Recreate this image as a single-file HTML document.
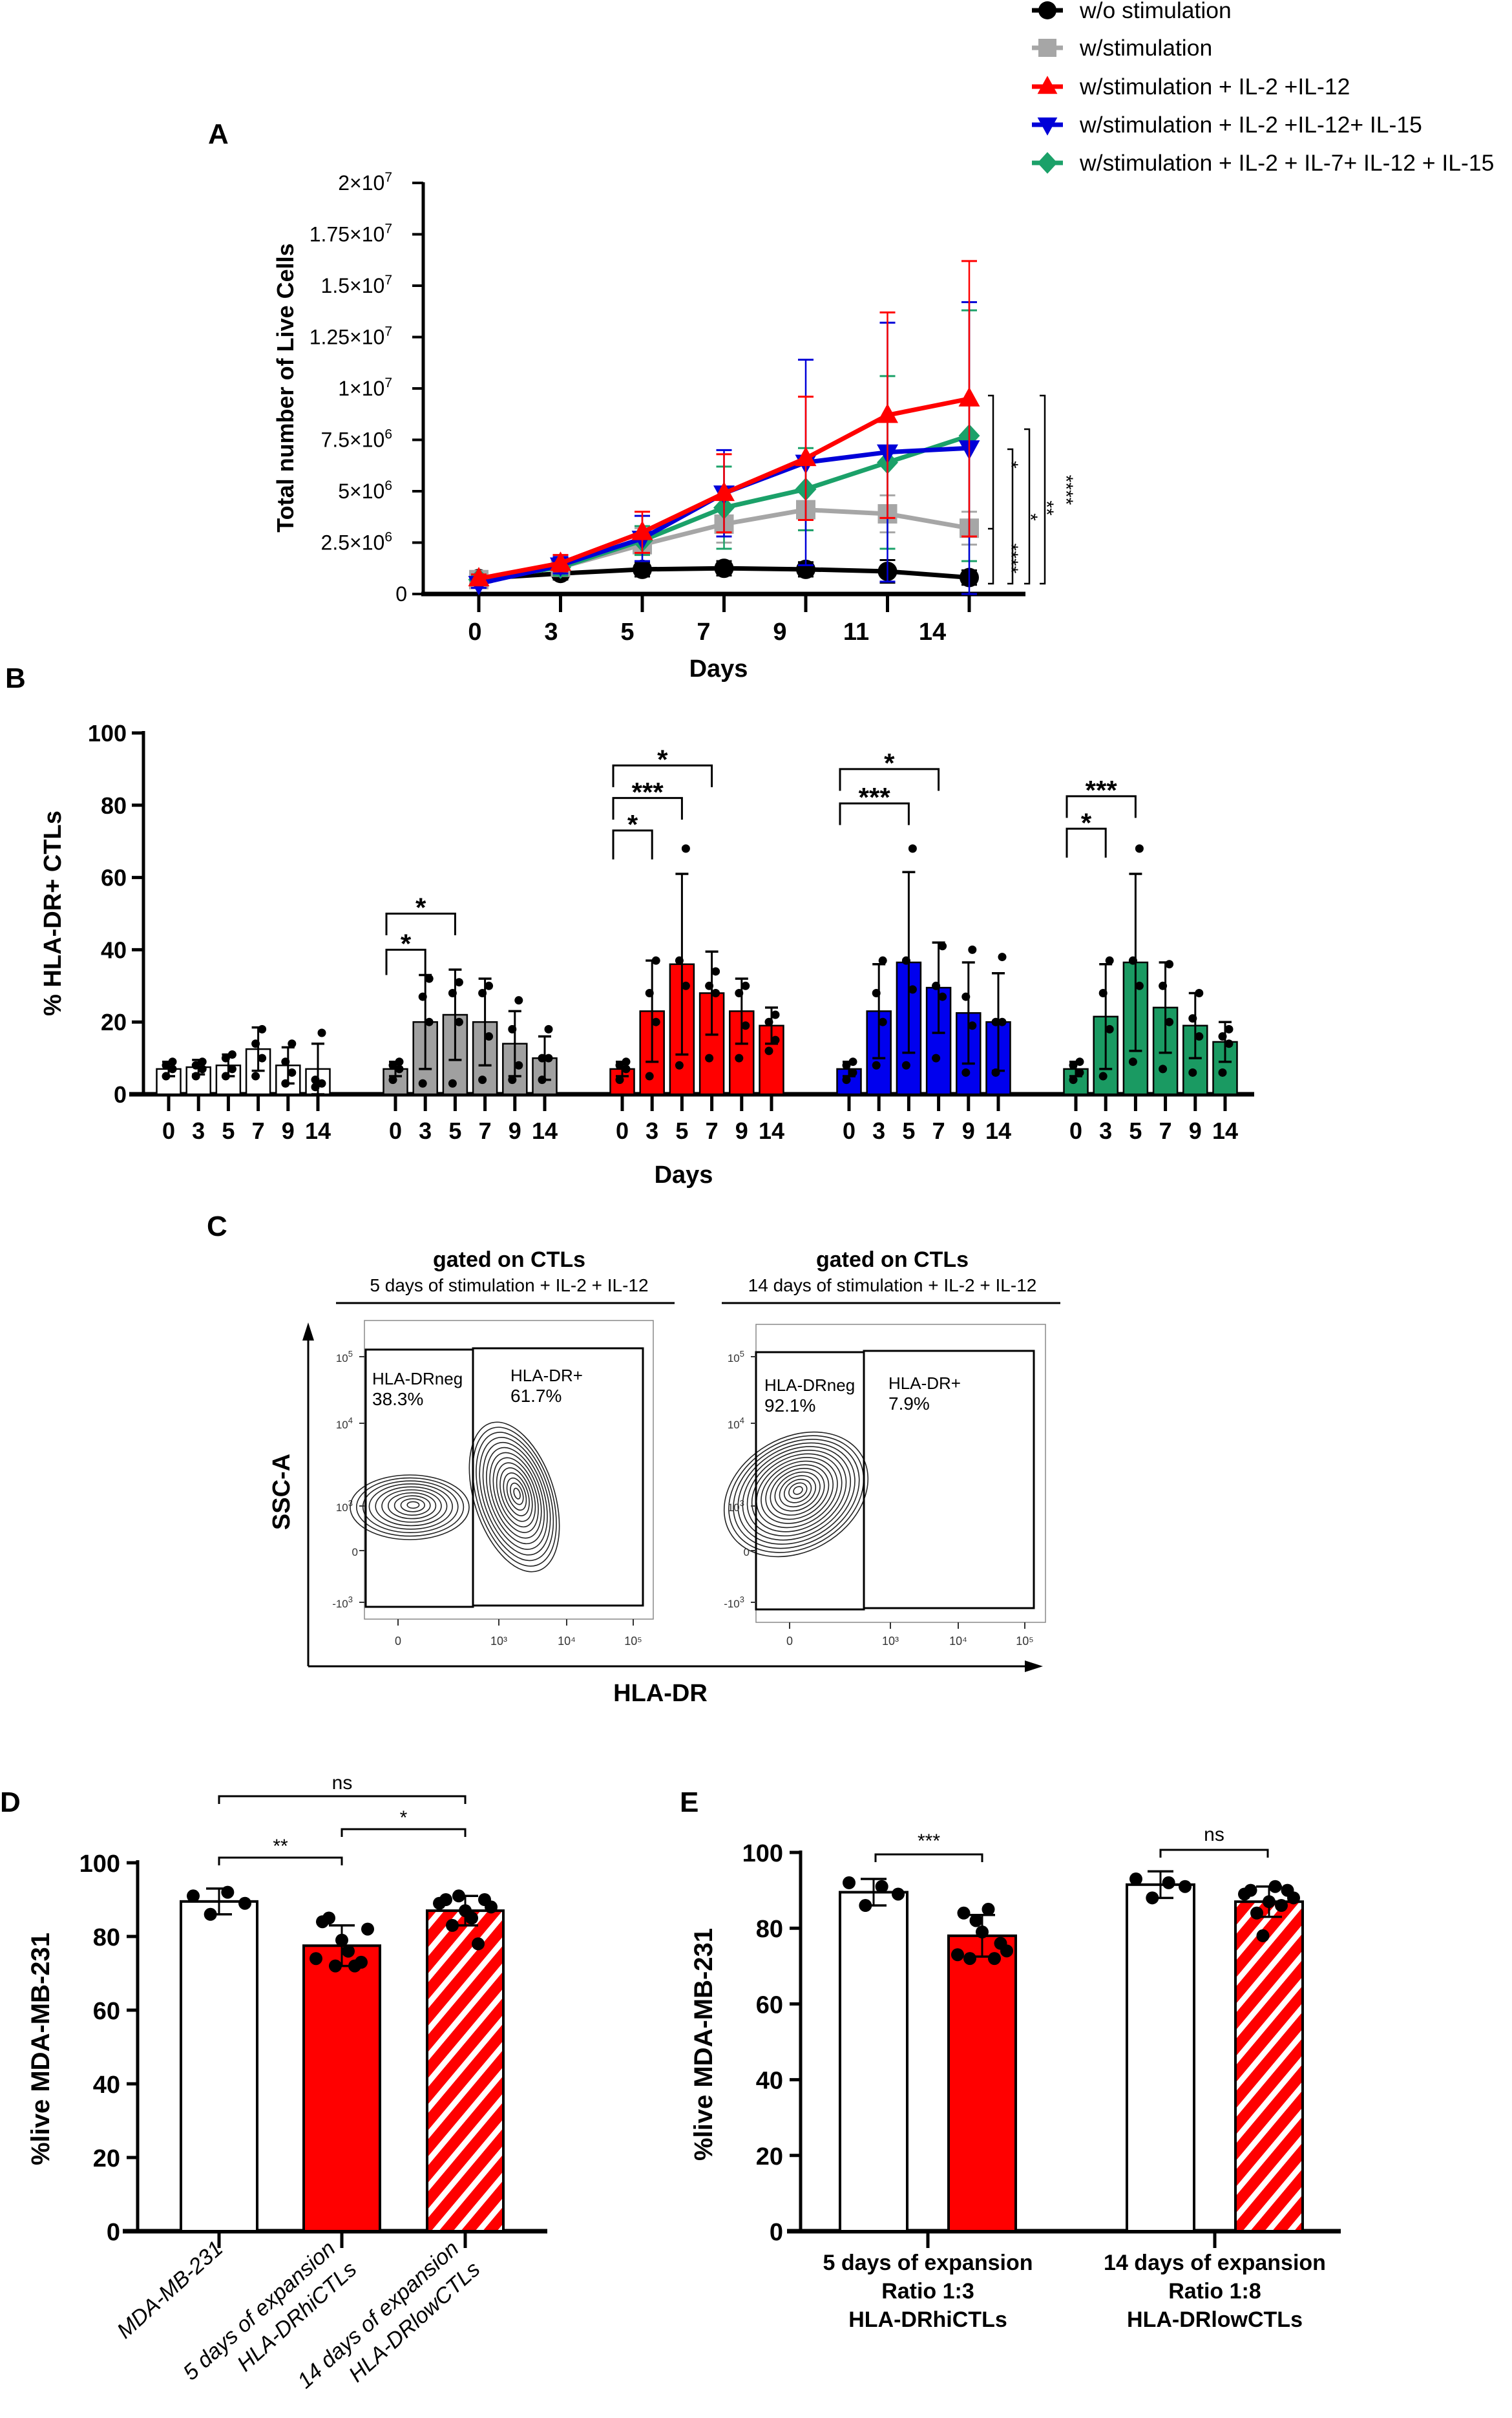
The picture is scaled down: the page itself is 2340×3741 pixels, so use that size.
<!DOCTYPE html>
<html><head><meta charset="utf-8"><style>
html,body{margin:0;padding:0;background:#fff;}
svg{display:block;font-family:"Liberation Sans",Arial,sans-serif;}
</style></head>
<body>
<svg id="fig" xmlns="http://www.w3.org/2000/svg" width="2340" height="3741" viewBox="0 0 2340 3741">
<defs>
<pattern id="hatch" patternUnits="userSpaceOnUse" width="26" height="26" patternTransform="rotate(40)">
<rect width="26" height="26" fill="#ff0000"/><rect width="9" height="26" fill="#fff"/>
</pattern>
</defs>
</svg>
<script>
// ---------- Panel A data ----------
const daysA = ["0","3","5","7","9","11","14"];
const seriesNames = ["w/o stimulation","w/stimulation","w/stimulation + IL-2 +IL-12","w/stimulation + IL-2 +IL-12+ IL-15","w/stimulation + IL-2 + IL-7+ IL-12 + IL-15"];
const blackVals = [0.75,1.0,1.2,1.25,1.2,1.1,0.8];
const grayVals  = [0.7,1.3,2.4,3.4,4.1,3.9,3.2];
const redVals   = [0.75,1.5,3.0,4.9,6.6,8.7,9.5];
const blueVals  = [0.5,1.4,2.7,4.9,6.4,6.9,7.1];
const greenVals = [0.7,1.3,2.6,4.2,5.1,6.4,7.7];
const blackErr = [0.3,0.3,0.35,0.35,0.35,0.55,0.35];
const grayErr  = [0.3,0.4,0.8,0.9,1.0,0.9,0.8];
const redErr   = [0.2,0.4,1.0,1.9,3.0,5.0,6.7];
const blueErr  = [0.2,0.4,1.1,2.1,5.0,6.3,7.1];
const greenErr = [0.2,0.4,0.7,2.0,2.0,4.2,6.1];
const yTicksA = [0,2.5,5,7.5,10,12.5,15,17.5,20];
const yTickLabA = [["0",""],["2.5×10","6"],["5×10","6"],["7.5×10","6"],["1×10","7"],["1.25×10","7"],["1.5×10","7"],["1.75×10","7"],["2×10","7"]];
// ---------- Panel B data ----------
const daysB = ["0","3","5","7","9","14"];
const whiteB = [7,7.5,8,12.5,8,7];
const grayB  = [7,20,22,20,14,10];
const redB   = [7,23,36,28,23,19];
const blueB  = [7,23,36.5,29.5,22.5,20];
const greenB = [7,21.5,36.5,24,19,14.5];
const whiteBsd = [2,2,3,6,5,7];
const grayBsd  = [2,13,12.5,12,9,6];
const redBsd   = [2,14,25,11.5,9,5];
const blueBsd  = [2,13,25,12.5,14,13.5];
const greenBsd = [2,14.5,24.5,12.5,9,5.5];
const whitePts = [[5,7,8,9],[5,7,8,9],[5,7,10,11],[5,10,14,18],[3,6,9,14],[2,3,4,17]];
const grayPts  = [[4,7,8,9],[3,20,27,32],[3,20,28,31],[4,16,28,30],[4,8,18,26],[4,10,10,18]];
const redPts   = [[4,7,8,9],[5,20,28,37],[8,30,37,68],[10,28,30,34],[10,19,28,30],[12,15,20,22]];
const bluePts  = [[4,6,8,9],[8,20,28,37],[8,29,37,68],[10,27,30,41],[6,19,27,40],[6,20,20,38]];
const greenPts = [[4,6,8,9],[5,18,28,37],[9,30,37,68],[7,20,30,36],[6,16,21,28],[6,14,16,18]];
const yTicksB = [0,20,40,60,80,100];
// ---------- Panel D/E data ----------
const catsD = ["MDA-MB-231","5 days of expansion|HLA-DRhiCTLs","14 days of expansion|HLA-DRlowCTLs"];
const meansD = [89.5,77.5,87];
const sdD = [3.5,5.5,4];
const ptsD = [[91,86,92,89],[74,84,85,72,79,76,72,73,82],[89,90,83,91,87,85,78,90,88]];
const meansE = [89.5,78,91.5,87];
const sdE = [3.5,5.5,3.5,4];
const ptsE = [[92,86,91,89],[73,84,72,82,79,85,72,76,74],[93,88,92,91],[89,90,84,78,87,91,86,90,88]];
const catsE = ["5 days of expansion|Ratio 1:3|HLA-DRhiCTLs","14 days of expansion|Ratio 1:8|HLA-DRlowCTLs"];
const yTicksDE = [0,20,40,60,80,100];

const NS="http://www.w3.org/2000/svg";
const svg=document.getElementById('fig');
function mk(tag,attrs,name,parent){
  const el=document.createElementNS(NS,tag);
  for(const k in attrs) el.setAttribute(k,attrs[k]);
  
  
  (parent||svg).appendChild(el); return el;
}
function grp(name){return mk('g',{},name,svg);}
function line(x1,y1,x2,y2,w,c,name,p){return mk('line',{x1,y1,x2,y2,'stroke-width':w,stroke:c},name,p);}
function txt(x,y,s,size,name,p,extra){
  const a=Object.assign({x,y,'font-size':size,fill:'#000'},extra||{});
  const t=mk('text',a,name,p); t.textContent=s; return t;
}

const letters=[["A",322,222],["B",8,1064],["C",320,1912],["D",0,2803],["E",1052,2803]];
letters.forEach(l=>txt(l[1],l[2],l[0],44,'panel-label-'+l[0].toLowerCase(),svg,{'font-weight':'bold'}));

// ================= Panel A =================
const gA=grp('panel-a-line-chart');
const xA=i=>741+i*126.5;
const yA=m=>919-m*31.8;
line(655,282,655,922,5,'#000','y-axis',gA);
line(652,919,1587,919,7,'#000','x-axis',gA);
yTicksA.forEach((v,i)=>{
  line(638,yA(v),655,yA(v),4,'#000','y-tick',gA);
  const t=txt(630,yA(v)+11,yTickLabA[i][0],32,'y-tick-label',gA,{'text-anchor':'end'});
  if(yTickLabA[i][1]){const s=document.createElementNS(NS,'tspan');s.setAttribute('dy','-13');s.setAttribute('font-size','21');s.textContent=yTickLabA[i][1];
  
  
  t.appendChild(s);
  t.setAttribute('x',607);}
});
daysA.forEach((d,i)=>{
  line(xA(i),919,xA(i),947,5,'#000','x-tick',gA);
  txt(735+i*118,990,d,38,'x-tick-label',gA,{'text-anchor':'middle','font-weight':'bold'});
});
txt(1112,1047,"Days",38,'x-axis-title',gA,{'text-anchor':'middle','font-weight':'bold'});
txt(0,0,"Total number of Live Cells",36,'y-axis-title',gA,{'text-anchor':'middle','font-weight':'bold','transform':'translate(454,600) rotate(-90)'});

const sAll=[[blackVals,blackErr,'#000','circle'],[grayVals,grayErr,'#a6a6a6','square'],[greenVals,greenErr,'#1ba169','diamond'],[blueVals,blueErr,'#0000d8','down'],[redVals,redErr,'#ff0000','up']];
function marker(x,y,shape,c,name,p,s){
  s=s||15;
  if(shape==='circle') return mk('circle',{cx:x,cy:y,r:s,fill:c},name,p);
  if(shape==='square') return mk('rect',{x:x-s,y:y-s,width:2*s,height:2*s,fill:c},name,p);
  if(shape==='up') return mk('polygon',{points:`${x},${y-s*1.2} ${x+s*1.1},${y+s*0.8} ${x-s*1.1},${y+s*0.8}`,fill:c},name,p);
  if(shape==='down') return mk('polygon',{points:`${x},${y+s*1.2} ${x+s*1.1},${y-s*0.8} ${x-s*1.1},${y-s*0.8}`,fill:c},name,p);
  return mk('polygon',{points:`${x},${y-s*1.2} ${x+s*1.1},${y} ${x},${y+s*1.2} ${x-s*1.1},${y}`,fill:c},name,p);
}
sAll.forEach((s,si)=>{
  const g=mk('g',{},'series-'+s[3],gA);
  s[0].forEach((v,i)=>{
    const x=xA(i);
    line(x,yA(v-s[1][i]),x,yA(v+s[1][i]),2.5,s[2],'error-bar',g);
    line(x-12,yA(v+s[1][i]),x+12,yA(v+s[1][i]),3,s[2],'error-cap',g);
    line(x-12,yA(v-s[1][i]),x+12,yA(v-s[1][i]),3,s[2],'error-cap',g);
  });
  mk('polyline',{points:s[0].map((v,i)=>xA(i)+','+yA(v)).join(' '),fill:'none',stroke:s[2],'stroke-width':7},'series-line',g);
  s[0].forEach((v,i)=>marker(xA(i),yA(v),s[3],s[2],'data-point',g));
});
const sigA=[[1537,612,903,'*',1555,719],[1567,695,903,'*',1585,800],[1593,664,903,'**',1610,786],[1617,612,903,'****',1640,758]];
sigA.forEach(b=>{
  mk('polyline',{points:`${b[0]-8},${b[1]} ${b[0]},${b[1]} ${b[0]},${b[2]} ${b[0]-8},${b[2]}`,fill:'none',stroke:'#000','stroke-width':2.5},'significance-bracket',gA);
  txt(0,0,b[3],30,'significance-stars',gA,{'text-anchor':'middle','transform':`translate(${b[4]},${b[5]}) rotate(90)`});
});
mk('polyline',{points:`1529,818 1537,818`,fill:'none',stroke:'#000','stroke-width':2.5},'significance-bracket',gA);
txt(0,0,"****",30,'significance-stars',gA,{'text-anchor':'middle','transform':`translate(1555,864) rotate(90)`});
const legShapes=['circle','square','up','down','diamond'];
const legColors=['#000','#a6a6a6','#ff0000','#0000d8','#1ba169'];
const legY=[16,74,134,193,252];
seriesNames.forEach((n,i)=>{
  const g=mk('g',{},'legend-entry',svg);
  line(1597,legY[i],1645,legY[i],7,legColors[i],'legend-line',g);
  marker(1621,legY[i],legShapes[i],legColors[i],'legend-marker',g,14);
  txt(1671,legY[i]+12,n,35.5,'legend-label',g);
});

// ================= Panel B =================
const gB=grp('panel-b-bar-chart');
const xB=(g,i)=>261+g*351+i*46.2;
const yB=v=>1693-v*5.59;
line(222,1131,222,1696,5,'#000','y-axis',gB);
line(200,1693,1941,1693,7,'#000','x-axis',gB);
yTicksB.forEach(v=>{
  line(204,yB(v),222,yB(v),5,'#000','y-tick',gB);
  txt(196,yB(v)+13,String(v),36,'y-tick-label',gB,{'text-anchor':'end','font-weight':'bold'});
});
txt(0,0,"% HLA-DR+ CTLs",38,'y-axis-title',gB,{'text-anchor':'middle','font-weight':'bold','transform':'translate(94,1413) rotate(-90)'});
txt(1058,1830,"Days",38,'x-axis-title',gB,{'text-anchor':'middle','font-weight':'bold'});
const groupsB=[[whiteB,whiteBsd,whitePts,'#ffffff'],[grayB,grayBsd,grayPts,'#a0a0a0'],[redB,redBsd,redPts,'#ff0000'],[blueB,blueBsd,bluePts,'#0000ee'],[greenB,greenBsd,greenPts,'#1a9a62']];
groupsB.forEach((G,g)=>{
  const gg=mk('g',{},'bar-group-'+(g+1),gB);
  G[0].forEach((v,i)=>{
    const x=xB(g,i);
    mk('rect',{x:x-18.5,y:yB(v),width:37,height:yB(0)-yB(v),fill:G[3],stroke:'#000','stroke-width':2.5},'bar',gg);
    line(x,yB(Math.max(0,v-G[1][i])),x,yB(v+G[1][i]),3,'#000','error-bar',gg);
    line(x-10,yB(v+G[1][i]),x+10,yB(v+G[1][i]),3.5,'#000','error-cap',gg);
    line(x-10,yB(Math.max(0,v-G[1][i])),x+10,yB(Math.max(0,v-G[1][i])),3.5,'#000','error-cap',gg);
    G[2][i].forEach((p,k)=>mk('circle',{cx:x+(k%2?6:-4),cy:yB(p),r:6.5,fill:'#000'},'data-point',gg));
    line(x,1693,x,1719,5,'#000','x-tick',gg);
    txt(x,1762,daysB[i],36,'x-tick-label',gg,{'text-anchor':'middle','font-weight':'bold'});
  });
});
const sigB=[[1,1,40,7,'*',43],[1,2,50,6,'*',53],[2,1,73,8,'*',76],[2,2,82,6,'***',85],[2,3,91,6,'*',94],[3,2,80.5,6,'***',83.5],[3,3,90,6,'*',93],[4,1,73.5,8,'*',76.5],[4,2,82.5,6,'***',85.5]];
sigB.forEach(s=>{
  const x1=xB(s[0],0)-14, x2=xB(s[0],s[1]);
  mk('polyline',{points:`${x1},${yB(s[2]-s[3])} ${x1},${yB(s[2])} ${x2},${yB(s[2])} ${x2},${yB(s[2]-s[3])}`,fill:'none',stroke:'#000','stroke-width':3},'significance-bracket',gB);
  txt((x1+x2)/2,yB(s[5])+22,s[4],42,'significance-stars',gB,{'text-anchor':'middle','font-weight':'bold'});
});

// ================= Panel C =================
const gC=grp('panel-c-flow-plots');
const plots=[
 {bx:564,by:2043,bw:447,bh:462,gx:[566,732,995],gy:[2088,2486],tc:788,sub:"5 days of stimulation + IL-2 + IL-12",ul:[520,1044],neg:["HLA-DRneg","38.3%",576,2142],pos:["HLA-DR+","61.7%",790,2137],
  clusters:[[634,2332,92,50,0,10],[796,2316,62,120,-18,14]]},
 {bx:1170,by:2049,bw:448,bh:461,gx:[1170,1337,1600],gy:[2092,2490],tc:1381,sub:"14 days of stimulation + IL-2 + IL-12",ul:[1117,1641],neg:["HLA-DRneg","92.1%",1183,2152],pos:["HLA-DR+","7.9%",1375,2149],
  clusters:[[1232,2312,118,88,-30,16]]}
];
plots.forEach((P,pi)=>{
  const g=mk('g',{},'flow-plot-'+(pi+1),gC);
  txt(P.tc,1960,"gated on CTLs",34,'plot-title',g,{'text-anchor':'middle','font-weight':'bold'});
  txt(P.tc,1998,P.sub,28,'plot-subtitle',g,{'text-anchor':'middle'});
  line(P.ul[0],2016,P.ul[1],2016,3,'#000','title-underline',g);
  mk('rect',{x:P.bx,y:P.by,width:P.bw,height:P.bh,fill:'none',stroke:'#888','stroke-width':1.5},'plot-frame',g);
  P.clusters.forEach(c=>{
    for(let k=1;k<=c[5];k++){
      const f=k/c[5];
      mk('ellipse',{cx:c[0]+(1-f)*6,cy:c[1]-(1-f)*4,rx:c[2]*f,ry:c[3]*f,fill:'none',stroke:'#222','stroke-width':1.6,transform:`rotate(${c[4]} ${c[0]} ${c[1]})`},'contour',g);
    }
  });
  mk('rect',{x:P.gx[0],y:P.gy[0],width:P.gx[1]-P.gx[0],height:P.gy[1]-P.gy[0],fill:'none',stroke:'#000','stroke-width':3},'gate-hla-drneg',g);
  mk('rect',{x:P.gx[1],y:P.gy[0]-2,width:P.gx[2]-P.gx[1],height:P.gy[1]-P.gy[0],fill:'none',stroke:'#000','stroke-width':3},'gate-hla-drpos',g);
  txt(P.neg[2],P.neg[3],P.neg[0],26,'gate-label',g);txt(P.neg[2],P.neg[3]+32,P.neg[1],28,'gate-percent',g);
  txt(P.pos[2],P.pos[3],P.pos[0],26,'gate-label',g);txt(P.pos[2],P.pos[3]+32,P.pos[1],28,'gate-percent',g);
  const ylab=[["10","5",2099],["10","4",2202],["10","3",2330],["0","",2399],["-10","3",2479]];
  ylab.forEach(l=>{const t=txt(P.bx-10,l[2]+8,l[0],17,'y-tick-label',g,{'text-anchor':'end','fill':'#333'}); if(l[1]){t.setAttribute('x',P.bx-18);const s=document.createElementNS(NS,'tspan');s.setAttribute('dy','-8');s.setAttribute('font-size','13');s.textContent=l[1];
    
    
    t.appendChild(s);}
    line(P.bx-8,l[2],P.bx,l[2],2,'#333','y-tick',g);});
  ["0","10³","10⁴","10⁵"].forEach((s,i)=>{txt(P.bx+[52,208,313,416][i],2545,s,18,'x-tick-label',g,{'text-anchor':'middle','fill':'#333'});
    line(P.bx+[52,208,313,416][i],P.by+P.bh,P.bx+[52,208,313,416][i],P.by+P.bh+10,2,'#333','x-tick',g);});
});
line(477,2578,477,2070,3,'#000','y-arrow',gC);
mk('polygon',{points:'477,2046 468,2074 486,2074',fill:'#000'},'y-arrowhead',gC);
line(477,2578,1590,2578,3,'#000','x-arrow',gC);
mk('polygon',{points:'1614,2578 1586,2569 1586,2587',fill:'#000'},'x-arrowhead',gC);
txt(0,0,"SSC-A",38,'y-axis-title',gC,{'text-anchor':'middle','font-weight':'bold','transform':'translate(448,2308) rotate(-90)'});
txt(1022,2632,"HLA-DR",38,'x-axis-title',gC,{'text-anchor':'middle','font-weight':'bold'});

// ================= Panel D =================
const gD=grp('panel-d-bar-chart');
const yD=v=>3452-v*5.7;
const xD=[339,529,720];
const fillsD=['#fff','#ff0000','url(#hatch)'];
line(213,2878,213,3455,5,'#000','y-axis',gD);
line(190,3452,847,3452,7,'#000','x-axis',gD);
yTicksDE.forEach(v=>{line(196,yD(v),213,yD(v),5,'#000','y-tick',gD);txt(186,yD(v)+14,String(v),38,'y-tick-label',gD,{'text-anchor':'end','font-weight':'bold'});});
txt(0,0,"%live MDA-MB-231",40,'y-axis-title',gD,{'text-anchor':'middle','font-weight':'bold','transform':'translate(76,3170) rotate(-90)'});
meansD.forEach((v,i)=>{
  const g=mk('g',{},'bar-'+(i+1),gD), x=xD[i];
  mk('rect',{x:x-59,y:yD(v),width:118,height:yD(0)-yD(v),fill:fillsD[i],stroke:'#000','stroke-width':4},'bar',g);
  line(x,yD(v-sdD[i]),x,yD(v+sdD[i]),3,'#000','error-bar',g);
  line(x-20,yD(v+sdD[i]),x+20,yD(v+sdD[i]),3.5,'#000','error-cap',g);
  line(x-20,yD(v-sdD[i]),x+20,yD(v-sdD[i]),3.5,'#000','error-cap',g);
  const n=ptsD[i].length;
  ptsD[i].forEach((p,k)=>mk('circle',{cx:x-40+80*k/(n-1),cy:yD(p),r:10,fill:'#000'},'data-point',g));
  line(x,3452,x,3478,5,'#000','x-tick',g);
  const parts=catsD[i].split('|');
  parts.forEach((s,j)=>txt(0,0,s,34,'x-tick-label',g,{'text-anchor':'end','font-style':'italic','transform':`translate(${x+(parts.length>1?-8:8)+j*33},${3482+j*32}) rotate(-42)`}));
});
[[339,529,2874,'**',2866],[529,720,2830,'*',2822],[339,720,2779,'ns',2768]].forEach(b=>{
  mk('polyline',{points:`${b[0]},${b[2]+12} ${b[0]},${b[2]} ${b[1]},${b[2]} ${b[1]},${b[2]+12}`,fill:'none',stroke:'#000','stroke-width':3},'significance-bracket',gD);
  txt((b[0]+b[1])/2,b[4],b[3],30,'significance-label',gD,{'text-anchor':'middle'});
});

// ================= Panel E =================
const gE=grp('panel-e-bar-chart');
const yE=v=>3452-v*5.86;
const xE=[1352,1520,1796,1964];
const fillsE=['#fff','#ff0000','#fff','url(#hatch)'];
line(1239,2863,1239,3455,5,'#000','y-axis',gE);
line(1218,3452,2075,3452,7,'#000','x-axis',gE);
yTicksDE.forEach(v=>{line(1222,yE(v),1239,yE(v),5,'#000','y-tick',gE);txt(1212,yE(v)+14,String(v),38,'y-tick-label',gE,{'text-anchor':'end','font-weight':'bold'});});
txt(0,0,"%live MDA-MB-231",40,'y-axis-title',gE,{'text-anchor':'middle','font-weight':'bold','transform':'translate(1102,3163) rotate(-90)'});
meansE.forEach((v,i)=>{
  const g=mk('g',{},'bar-'+(i+1),gE), x=xE[i];
  mk('rect',{x:x-52,y:yE(v),width:104,height:yE(0)-yE(v),fill:fillsE[i],stroke:'#000','stroke-width':4},'bar',g);
  line(x,yE(v-sdE[i]),x,yE(v+sdE[i]),3,'#000','error-bar',g);
  line(x-20,yE(v+sdE[i]),x+20,yE(v+sdE[i]),3.5,'#000','error-cap',g);
  line(x-20,yE(v-sdE[i]),x+20,yE(v-sdE[i]),3.5,'#000','error-cap',g);
  const n=ptsE[i].length;
  ptsE[i].forEach((p,k)=>mk('circle',{cx:x-38+76*k/(n-1),cy:yE(p),r:10,fill:'#000'},'data-point',g));
});
[1436,1880].forEach((x,i)=>{
  line(x,3452,x,3478,5,'#000','x-tick',gE);
  catsE[i].split('|').forEach((s,j)=>txt(x,3512+j*44,s,34,'x-tick-label',gE,{'text-anchor':'middle','font-weight':'bold'}));
});
[[1355,1520,2869,'***',2858],[1796,1962,2862,'ns',2848]].forEach(b=>{
  mk('polyline',{points:`${b[0]},${b[2]+12} ${b[0]},${b[2]} ${b[1]},${b[2]} ${b[1]},${b[2]+12}`,fill:'none',stroke:'#000','stroke-width':3},'significance-bracket',gE);
  txt((b[0]+b[1])/2,b[4],b[3],30,'significance-label',gE,{'text-anchor':'middle'});
});
</script>
</body></html>
